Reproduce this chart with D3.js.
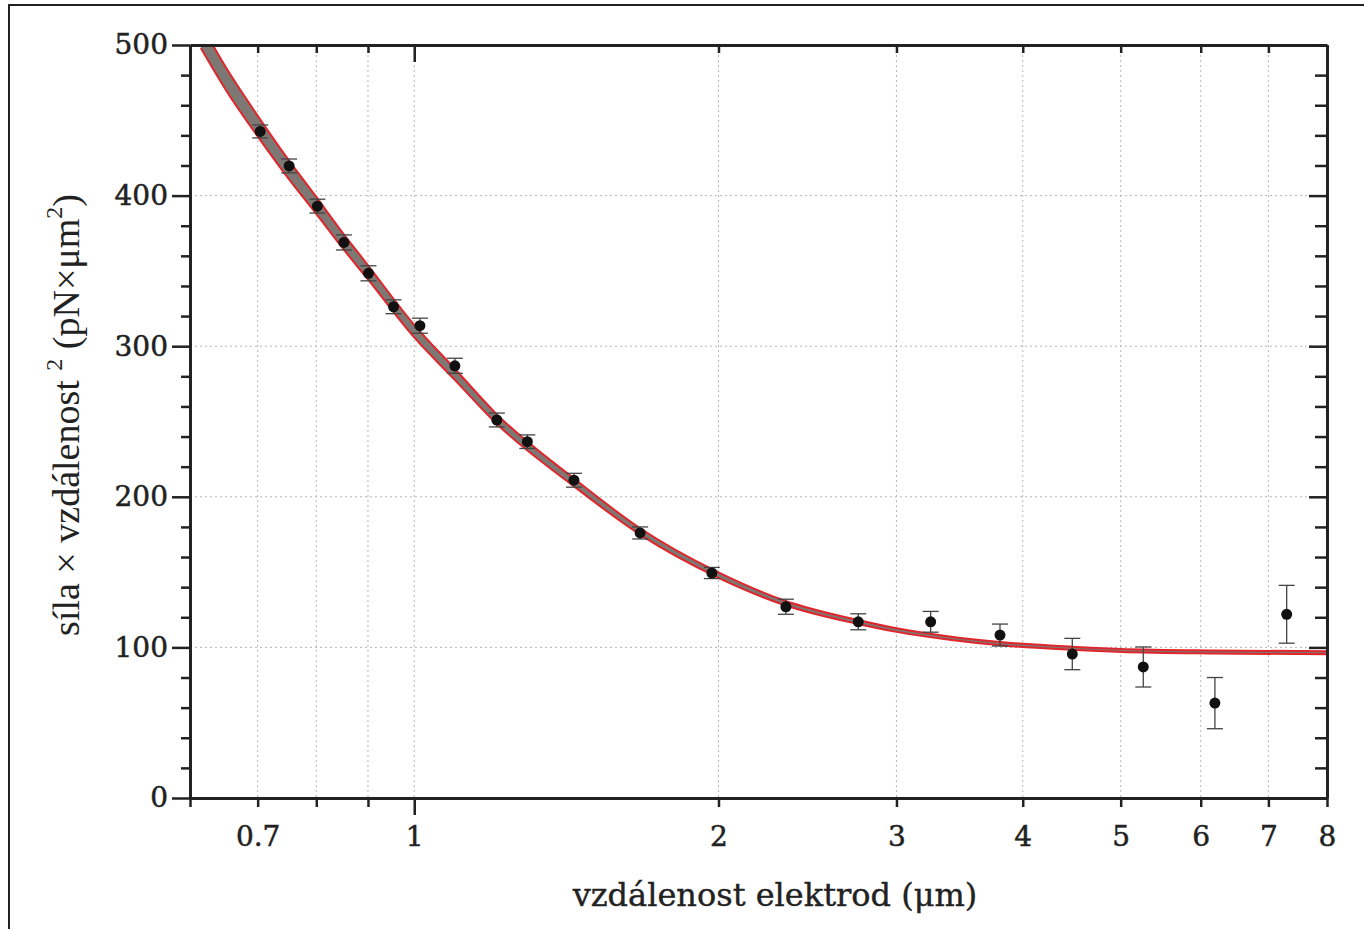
<!DOCTYPE html>
<html>
<head>
<meta charset="utf-8">
<script src="https://cdn.jsdelivr.net/npm/d3@7"></script>
<style>
  body { margin: 0; background: #fff; }
  svg text { fill: #222; }
</style>
</head>
<body>
<div id="chart"></div>
<script>
// measured points: distance (um), force x distance^2, error
var dist = [0.704, 0.752, 0.802, 0.852, 0.901, 0.954, 1.013, 1.097, 1.207, 1.294,
            1.439, 1.673, 1.970, 2.332, 2.750, 3.243, 3.798, 4.478, 5.264, 6.197, 7.298];
var force = [442.6, 419.7, 393.0, 368.9, 348.4, 326.2, 313.6, 287.0, 251.0, 236.6,
             211.0, 176.0, 149.4, 127.0, 117.0, 117.0, 108.2, 95.6, 87.0, 63.0, 122.0];
var forceErr = [4.3, 4.6, 4.6, 5.0, 5.0, 4.6, 5.0, 5.0, 4.6, 4.5,
                4.6, 4.0, 3.7, 5.0, 5.3, 6.9, 7.3, 10.4, 13.3, 17.0, 19.2];

// fitted curve, with its confidence half-width
var fitX = [0.615, 0.652, 0.702, 0.750, 0.799, 0.850, 0.900, 1.0, 1.098, 1.205, 1.436, 1.673,
            2.0, 2.327, 2.742, 3.0, 3.4, 3.798, 4.474, 5.261, 6.183, 8.0];
var fitY = [506, 477, 445, 418, 394, 370, 349, 310, 281, 252, 210, 177,
            148, 129.5, 117, 111.5, 106, 102.5, 99.5, 97.6, 97.0, 96.4];
var fitErr = [8, 7.5, 6.8, 6.2, 5.6, 5.1, 4.7, 4.2, 3.7, 3.2, 2.6, 2.1,
              1.8, 1.5, 1.3, 1.2, 1.1, 1.1, 1.0, 1.0, 1.0, 1.0];

var xTicks = [0.6, 0.7, 0.8, 0.9, 1, 2, 3, 4, 5, 6, 7, 8];
var xLabels = [0.7, 1, 2, 3, 4, 5, 6, 7, 8];
var xGrid = [0.7, 0.8, 0.9, 1, 2, 3, 4, 5, 6, 7];
var yTicks = d3.range(0, 501, 20);
var yLabels = [0, 100, 200, 300, 400, 500];
var yGrid = [100, 200, 300, 400];

var W = 1364, H = 929;
var margin = {top: 45, right: 37, bottom: 131, left: 190};
var w = W - margin.left - margin.right;
var h = H - margin.top - margin.bottom;

var svg = d3.select("#chart").append("svg")
    .attr("width", W)
    .attr("height", H);

// outer frame (only top and left edges show in the picture)
svg.append("path")
    .attr("d", "M9,929V5H1364")
    .attr("fill", "none")
    .attr("stroke", "#222")
    .attr("stroke-width", 2);

var g = svg.append("g")
    .attr("transform", "translate(" + margin.left + "," + margin.top + ")");

var x = d3.scaleLog().domain([0.6, 8]).range([0, w]);
var y = d3.scaleLinear().domain([0, 500]).range([h, 0]);

g.append("clipPath").attr("id", "plotclip")
  .append("rect").attr("width", w).attr("height", h);

// grid
g.selectAll(".vgrid").data(xGrid).enter().append("line")
    .attr("x1", function(d){ return x(d); })
    .attr("x2", function(d){ return x(d); })
    .attr("y1", 0).attr("y2", h)
    .attr("stroke", "#b5b5b5").attr("stroke-width", 1)
    .attr("stroke-dasharray", "2,3");
g.selectAll(".hgrid").data(yGrid).enter().append("line")
    .attr("x1", 0).attr("x2", w)
    .attr("y1", function(d){ return y(d); })
    .attr("y2", function(d){ return y(d); })
    .attr("stroke", "#b5b5b5").attr("stroke-width", 1)
    .attr("stroke-dasharray", "2,3");

// fit band + edges
var fitData = fitX.map(function(d, i){ return {x: d, y: fitY[i], e: fitErr[i]}; });
var area = d3.area()
    .x(function(d){ return x(d.x); })
    .y0(function(d){ return y(d.y - d.e); })
    .y1(function(d){ return y(d.y + d.e); })
    .curve(d3.curveMonotoneX);
var lineHi = d3.line()
    .x(function(d){ return x(d.x); })
    .y(function(d){ return y(d.y + d.e); })
    .curve(d3.curveMonotoneX);
var lineLo = d3.line()
    .x(function(d){ return x(d.x); })
    .y(function(d){ return y(d.y - d.e); })
    .curve(d3.curveMonotoneX);

var fitG = g.append("g").attr("clip-path", "url(#plotclip)");
fitG.append("path").datum(fitData)
    .attr("d", area)
    .attr("fill", "#7d7874");
fitG.append("path").datum(fitData)
    .attr("d", lineHi)
    .attr("fill", "none").attr("stroke", "#e0262b").attr("stroke-width", 2);
fitG.append("path").datum(fitData)
    .attr("d", lineLo)
    .attr("fill", "none").attr("stroke", "#e0262b").attr("stroke-width", 2);

// error bars and points
var pts = dist.map(function(d, i){ return {x: d, y: force[i], e: forceErr[i]}; });
var eb = g.selectAll(".eb").data(pts).enter().append("g")
    .attr("stroke", "#444").attr("stroke-width", 1.3);
eb.append("line")
    .attr("x1", function(d){ return x(d.x); })
    .attr("x2", function(d){ return x(d.x); })
    .attr("y1", function(d){ return y(d.y - d.e); })
    .attr("y2", function(d){ return y(d.y + d.e); });
eb.append("line")
    .attr("x1", function(d){ return x(d.x) - 8; })
    .attr("x2", function(d){ return x(d.x) + 8; })
    .attr("y1", function(d){ return y(d.y + d.e); })
    .attr("y2", function(d){ return y(d.y + d.e); });
eb.append("line")
    .attr("x1", function(d){ return x(d.x) - 8; })
    .attr("x2", function(d){ return x(d.x) + 8; })
    .attr("y1", function(d){ return y(d.y - d.e); })
    .attr("y2", function(d){ return y(d.y - d.e); });

g.selectAll(".pt").data(pts).enter().append("circle")
    .attr("cx", function(d){ return x(d.x); })
    .attr("cy", function(d){ return y(d.y); })
    .attr("r", 5.5)
    .attr("fill", "#111");

// axes
var tickFont = "DejaVu Serif";

function styleAxis(sel) {
  sel.select(".domain").attr("stroke", "#222").attr("stroke-width", 3);
  sel.selectAll(".tick line").attr("stroke", "#222").attr("stroke-width", 2.5);
  sel.selectAll(".tick text")
      .attr("font-family", tickFont).attr("font-size", 28).attr("fill", "#222")
      .attr("stroke", "#222").attr("stroke-width", 0.5);
}

var xAxis = g.append("g")
    .attr("transform", "translate(0," + h + ")")
    .call(d3.axisBottom(x).tickValues(xTicks).tickSize(9).tickPadding(19)
        .tickSizeOuter(0)
        .tickFormat(function(d){ return xLabels.indexOf(d) >= 0 ? d3.format("")(d) : ""; }));
styleAxis(xAxis);
xAxis.selectAll(".tick line").filter(function(d){ return d === 1; }).attr("y2", 17);

var xTop = g.append("g")
    .call(d3.axisTop(x).tickValues(xTicks).tickSize(-8).tickSizeOuter(0).tickFormat(""));
styleAxis(xTop);
xTop.selectAll(".tick line").filter(function(d){ return d === 1; }).attr("y2", 17);

var yAxis = g.append("g")
    .call(d3.axisLeft(y).tickValues(yTicks).tickSize(9).tickPadding(13).tickSizeOuter(0)
        .tickFormat(function(d){ return yLabels.indexOf(d) >= 0 ? d : ""; }));
styleAxis(yAxis);
yAxis.selectAll(".tick line").filter(function(d){ return d % 100 === 0; }).attr("x2", -18);

var yRight = g.append("g")
    .attr("transform", "translate(" + w + ",0)")
    .call(d3.axisRight(y).tickValues(yTicks).tickSize(-12).tickSizeOuter(0).tickFormat(""));
styleAxis(yRight);
yRight.selectAll(".tick line").filter(function(d){ return d % 100 === 0; }).attr("x2", -18);

// axis titles
svg.append("text")
    .attr("x", 775).attr("y", 906)
    .attr("text-anchor", "middle")
    .attr("font-family", tickFont).attr("font-size", 32)
    .attr("stroke", "#222").attr("stroke-width", 0.4)
    .text("vzdálenost elektrod (μm)");

var yl = svg.append("text")
    .attr("transform", "translate(79," + 415 + ") rotate(-90)")
    .attr("text-anchor", "middle")
    .attr("font-family", "Liberation Serif").attr("font-size", 38);
yl.append("tspan").text("síla × vzdálenost ");
yl.append("tspan").attr("dy", -17).attr("font-size", 24).text("2");
yl.append("tspan").attr("dy", 17).text("  (pN×μm");
yl.append("tspan").attr("dy", -17).attr("font-size", 24).text("2");
yl.append("tspan").attr("dy", 17).text(")");
</script>
</body>
</html>
